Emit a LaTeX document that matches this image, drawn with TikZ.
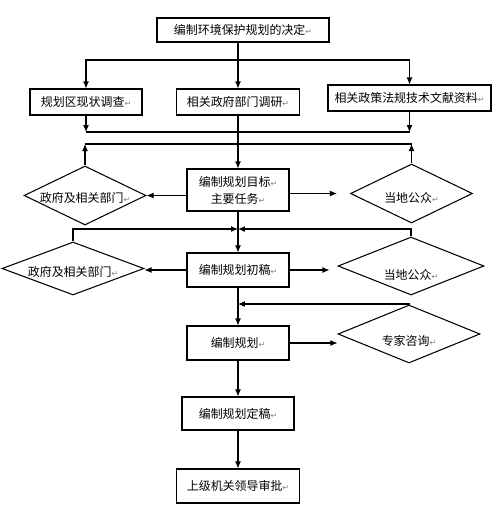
\documentclass[tikz,border=0pt]{standalone}
\usepackage{fontspec}
\usepackage{tikz}
\usetikzlibrary{arrows.meta, shapes.geometric}
\setmainfont{Noto Sans CJK SC}
\newfontfamily\symfont{DejaVu Sans}
\newcommand{\parmark}{{\symfont\fontsize{4.5}{4.5}\selectfont\color{gray}↵}}
\newcommand{\lowered}[2]{\raisebox{-#1}[0pt][0pt]{#2}}

\begin{document}
\begin{tikzpicture}[
    x=0.02cm, y=-0.02cm,
    every node/.style={font=\fontsize{6.8}{9.6}\selectfont},
    box/.style={draw, line width=0.6pt, inner sep=0pt, align=center},
    choice/.style={draw, diamond, aspect=2, inner sep=0pt, line width=0.6pt},
    line/.style={line width=0.6pt},
    arr/.style={line, -{Latex[length=1.4mm, width=1.2mm]}}
]
    \useasboundingbox (0,0) rectangle (500,525);

    % Nodes
    \node[box, minimum width=3.44cm, minimum height=0.48cm] (decide) at (243,30) {编制环境保护规划的决定\parmark};
    \node[box, minimum width=2.24cm, minimum height=0.52cm] (survey) at (86,102) {规划区现状调查\parmark};
    \node[box, minimum width=2.46cm, minimum height=0.52cm] (research) at (238,102) {相关政府部门调研\parmark};
    \node[box, minimum width=3.26cm, minimum height=0.52cm] (literature) at (409.5,98) {相关政策法规技术文献资料\parmark};
    \node[box, minimum width=2.04cm, minimum height=0.84cm] (goals) at (238,190) {编制规划目标\parmark\\主要任务\parmark};
    \node[choice, minimum width=2.44cm, minimum height=1.18cm] (gov1) at (85,195.5) {\lowered{4pt}{政府及相关部门\parmark}};
    \node[choice, minimum width=2.44cm, minimum height=1.18cm] (public1) at (411.5,193.5) {\lowered{5.1pt}{当地公众\parmark}};
    \node[box, minimum width=2.04cm, minimum height=0.68cm] (draft) at (238,270) {编制规划初稿\parmark};
    \node[choice, minimum width=2.84cm, minimum height=1.06cm] (gov2) at (73,268.5) {\lowered{4.6pt}{政府及相关部门\parmark}};
    \node[choice, minimum width=2.92cm, minimum height=1.16cm] (public2) at (411,266) {\lowered{7.6pt}{当地公众\parmark}};
    \node[box, minimum width=2.04cm, minimum height=0.68cm] (plan) at (238,343) {编制规划\parmark};
    \node[choice, minimum width=2.84cm, minimum height=1.16cm] (expert) at (409,334) {\lowered{6.6pt}{专家咨询\parmark}};
    \node[box, minimum width=2.24cm, minimum height=0.66cm] (final) at (238,413.5) {编制规划定稿\parmark};
    \node[box, minimum width=2.46cm, minimum height=0.68cm] (approve) at (238,486) {上级机关领导审批\parmark};

    % Junctions
    \coordinate (split) at (238,60);
    \coordinate (merge) at (238,132);
    \coordinate (feedback) at (238,144);
    \coordinate (join1) at (238,229);
    \coordinate (join2) at (238,304);

    % Arrows
    \draw[line] (decide.south -| split) -- (split);
    \draw[arr] (split) -| (survey.north);
    \draw[arr] (split) -- (research.north);
    \draw[arr] (split) -| (literature.north);
    \draw[line] (survey |- merge) -- (literature |- merge);
    \draw[arr] (survey) -- (survey |- merge);
    \draw[arr] (literature) -- (literature |- merge);
    \draw[arr] (research) -- (goals);
    \draw[line] (gov1 |- feedback) -- (public1 |- feedback);
    \draw[arr] (gov1) -- (gov1 |- feedback);
    \draw[arr] (public1) -- (public1 |- feedback);
    \draw[arr] (goals.west |- gov1.east) -- (gov1.east);
    \draw[arr, shorten >=0.26cm] (goals.east |- public1.west) -- (public1.west);
    \draw[arr] (goals) -- (draft);
    \draw[arr] (gov2) |- (join1);
    \draw[arr] (public2) |- (join1);
    \draw[arr] (draft.west) -- (gov2.east |- draft.west);
    \draw[arr, shorten >=0.16cm] (draft.east) -- (public2.west |- draft.east);
    \draw[arr] (draft) -- (plan);
    \draw[arr] (expert) |- (join2);
    \draw[arr] (plan.east) -- (expert.west |- plan.east);
    \draw[arr] (plan) -- (final);
    \draw[arr] (final) -- (approve);
\end{tikzpicture}
\end{document}
